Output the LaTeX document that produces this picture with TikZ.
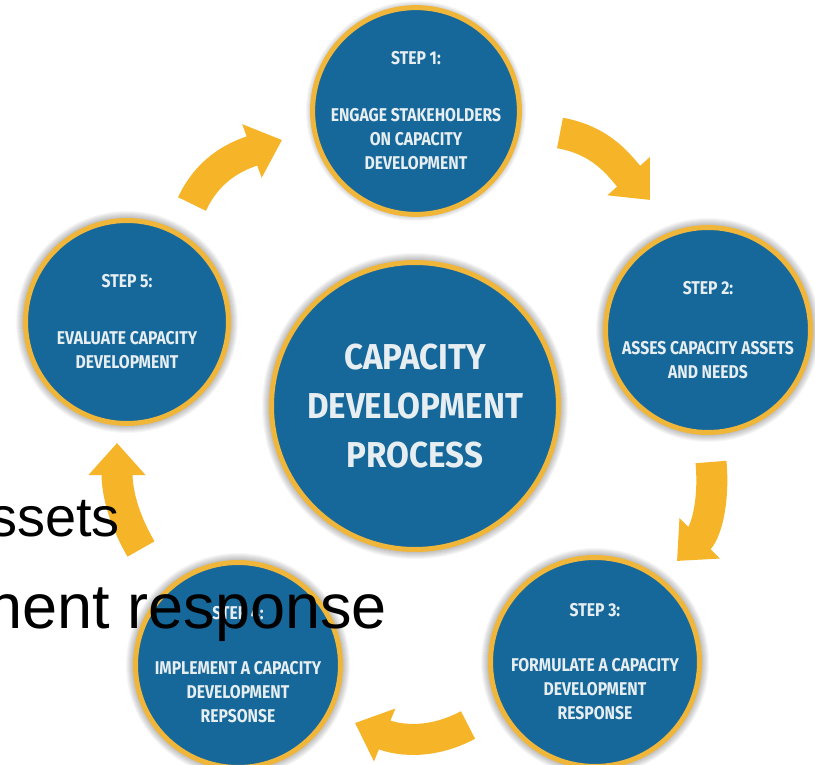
\documentclass[tikz,border=0pt]{standalone}
\usepackage{fontspec}
\setmainfont{Liberation Sans}
\newfontfamily\condfont[FakeStretch=0.85]{Fira Sans}
\newfontfamily\centfont[FakeStretch=0.92]{Fira Sans}
\usetikzlibrary{arrows.meta}
\definecolor{cblue}{HTML}{17689A}
\definecolor{cring}{HTML}{F0B63A}
\definecolor{carrow}{HTML}{F6B428}
\definecolor{ctext}{HTML}{E6EEF2}
\tikzset{
  stepcircle/.style={circle, fill=cblue, draw=cring, line width=5pt, inner sep=0pt,
    minimum size=#1, text=ctext, align=center,
    font=\condfont\bfseries\fontsize{18.5}{24}\selectfont},
  centcircle/.style={stepcircle=#1, font=\centfont\bfseries\fontsize{36}{49}\selectfont},
  cyclearrow/.style={draw=carrow, line width=31pt, -{Triangle[width=55pt,length=32pt]}},
  bgtext/.style={inner sep=0pt, text=black},
  halo/.style={fill=black, opacity=0.035}
}
\begin{document}
\begin{tikzpicture}[x=1pt,y=1pt]
\useasboundingbox (0,0) rectangle (815,-765);
\clip (0,0) rectangle (815,-765);
\fill[white] (0,0) rectangle (815,-765);
% soft shadows
\foreach \cx/\cy/\cr in {416/111/103, 708/330/105, 595/662/107, 238/665/105, 127/322/104, 415/406/146}{
  \foreach \k in {1,...,7}{
    \fill[halo] (\cx,-\cy) circle[radius={\cr pt+\k pt}];
  }
}
% circles
\node[stepcircle=201pt] (s1) at (416,-111) {STEP 1:\\[33pt]ENGAGE STAKEHOLDERS\\ON CAPACITY\\DEVELOPMENT};
\node[stepcircle=205pt] (s2) at (708,-330) {STEP 2:\\[36pt]ASSES CAPACITY ASSETS\\AND NEEDS};
\node[stepcircle=209pt] (s3) at (595,-662) {STEP 3:\\[31pt]FORMULATE A CAPACITY\\DEVELOPMENT\\RESPONSE};
\node[stepcircle=205pt] (s4) at (238,-665) {STEP 4:\\[31pt]IMPLEMENT A CAPACITY\\DEVELOPMENT\\REPSONSE};
\node[stepcircle=203pt] (s5) at (127,-322) {STEP 5:\\[33pt]EVALUATE CAPACITY\\DEVELOPMENT};
\node[centcircle=287pt] (c) at (415,-406) {CAPACITY\\DEVELOPMENT\\PROCESS};
% arrow end points
\coordinate (a1t) at (192,-204); \coordinate (a1h) at (282,-140);
\coordinate (a2t) at (560,-133); \coordinate (a2h) at (650,-200);
\coordinate (a3t) at (711,-462); \coordinate (a3h) at (677,-561);
\coordinate (a4t) at (468,-725); \coordinate (a4h) at (355,-723);
\coordinate (a5t) at (141,-549); \coordinate (a5h) at (117,-443);
\draw[cyclearrow] (a1t) to[out=65,in=200] (a1h);
\draw[cyclearrow] (a2t) to[out=-10,in=132] (a2h);
\draw[cyclearrow] (a3t) to[out=-85,in=45] (a3h);
\draw[cyclearrow] (a4t) to[out=208,in=-22] (a4h);
\draw[cyclearrow] (a5t) to[out=120,in=-90] (a5h);
% overlaid slide text
\node[bgtext, anchor=base east, font=\fontsize{56}{67}\selectfont] (t1) at (120,-536) {ssets};
\node[bgtext, anchor=base east, font=\fontsize{63}{75}\selectfont] (t2) at (387,-628) {nent response};
\end{tikzpicture}
\end{document}
